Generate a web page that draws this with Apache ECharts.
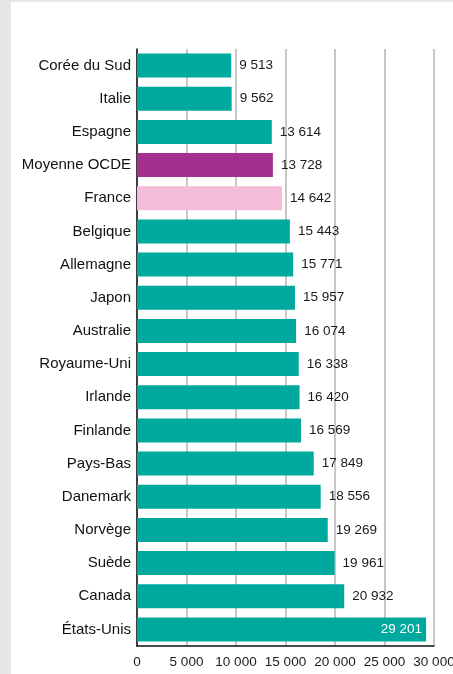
<!DOCTYPE html>
<html>
<head>
<meta charset="utf-8">
<script src="https://cdn.jsdelivr.net/npm/echarts@6/dist/echarts.min.js"></script>
<style>
  html, body { margin: 0; padding: 0; background: #e6e7e9; }
  #panel { position: absolute; left: 11px; top: 2px; width: 442px; height: 672px; background: #fff; }
  #chart { position: absolute; left: 0; top: 0; width: 453px; height: 674px; }
</style>
</head>
<body>
<div id="panel"></div>
<div id="chart"></div>
<script>
// dépense par élève
const countries = ['Corée du Sud', 'Italie', 'Espagne', 'Moyenne OCDE', 'France', 'Belgique', 'Allemagne',
  'Japon', 'Australie', 'Royaume-Uni', 'Irlande', 'Finlande', 'Pays-Bas', 'Danemark', 'Norvège',
  'Suède', 'Canada', 'États-Unis']
const values = [9513, 9562, 13614, 13728, 14642, 15443, 15771, 15957, 16074, 16338, 16420, 16569,
  17849, 18556, 19269, 19961, 20932, 29201]
const xTicks = [0, 5000, 10000, 15000, 20000, 25000, 30000]

const TEAL = '#00a99d'
const colorOf = name => name === 'Moyenne OCDE' ? '#a3308e' : name === 'France' ? '#f4bcd9' : TEAL
const fmt = v => String(v).replace(/\B(?=(\d{3})+(?!\d))/g, ' ')
const FONT = "'Liberation Sans', Arial, sans-serif"

const chart = echarts.init(document.getElementById('chart'), null, {renderer: 'canvas'})

const maxV = xTicks[xTicks.length - 1]
const data = values.map((v, i) => {
  const inside = v > maxV * 0.9
  return {
    value: v,
    itemStyle: {color: colorOf(countries[i])},
    label: inside ? {position: 'insideRight', color: '#fff', distance: 4} : {}
  }
})

chart.setOption({
  animation: false,
  backgroundColor: 'transparent',
  grid: {left: 137, right: 19, top: 49, bottom: 28, containLabel: false, outerBoundsMode: 'none'},
  xAxis: {
    type: 'value',
    min: xTicks[0],
    max: maxV,
    interval: xTicks[1] - xTicks[0],
    axisLine: {show: true, lineStyle: {color: '#111', width: 1.5}},
    axisTick: {show: false},
    splitLine: {show: true, lineStyle: {color: '#b4b4b4', width: 1.5}},
    axisLabel: {color: '#1a1a1a', fontSize: 13.5, fontFamily: FONT, margin: 9, formatter: v => fmt(v)}
  },
  yAxis: {
    type: 'category',
    data: countries,
    inverse: true,
    axisLine: {show: true, lineStyle: {color: '#111', width: 1.5}},
    axisTick: {show: false},
    axisLabel: {color: '#111', fontSize: 15, fontFamily: FONT, margin: 6}
  },
  series: [{
    type: 'bar',
    data: data,
    barWidth: 24,
    label: {
      show: true,
      position: 'right',
      distance: 8,
      color: '#1a1a1a',
      fontSize: 13.5,
      fontFamily: FONT,
      formatter: p => fmt(p.value)
    }
  }]
})
</script>
</body>
</html>
